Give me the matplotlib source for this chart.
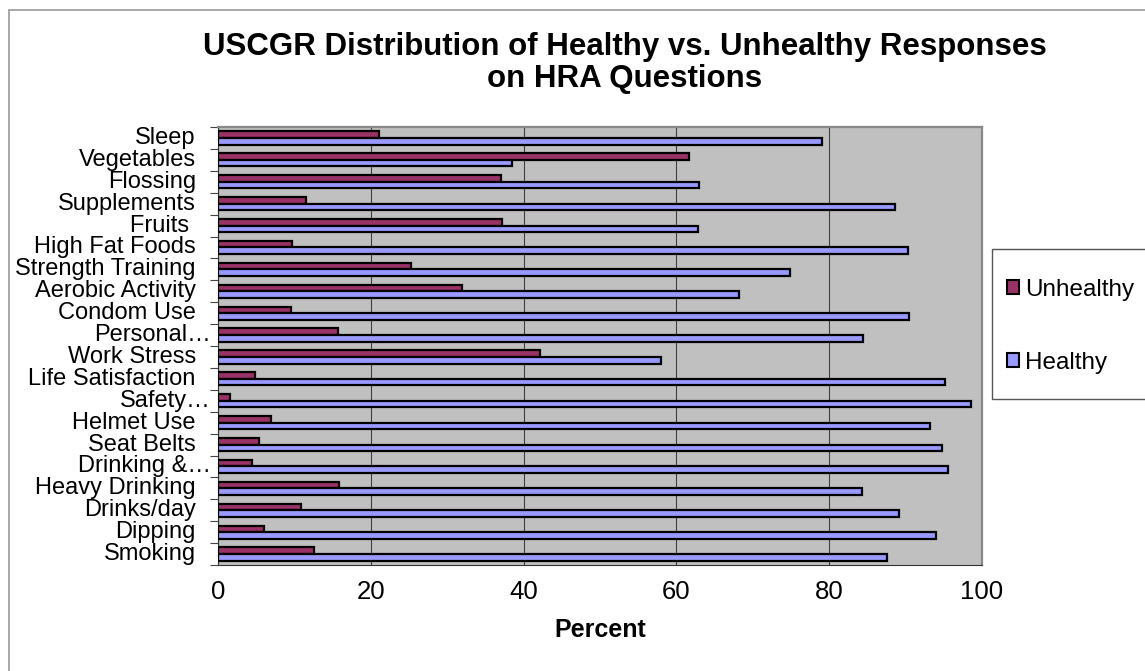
import matplotlib
matplotlib.use("Agg")
import matplotlib.pyplot as plt
import matplotlib.transforms as mtransforms
import numpy as np
from matplotlib.patches import Rectangle

plt.rcParams['font.family'] = ['Liberation Sans', 'DejaVu Sans']

categories = ["Smoking", "Dipping", "Drinks/day", "Heavy Drinking", "Drinking &\u2026",
              "Seat Belts", "Helmet Use", "Safety\u2026", "Life Satisfaction", "Work Stress",
              "Personal\u2026", "Condom Use", "Aerobic Activity", "Strength Training",
              "High Fat Foods", "Fruits ", "Supplements", "Flossing", "Vegetables", "Sleep"]
unhealthy = [12.6, 6.0, 10.9, 15.8, 4.5, 5.4, 6.9, 1.6, 4.9, 42.1,
             15.7, 9.6, 31.9, 25.2, 9.7, 37.2, 11.5, 37.1, 61.6, 21.1]
healthy = [87.5, 94.0, 89.1, 84.3, 95.6, 94.7, 93.2, 98.5, 95.2, 58.0,
           84.4, 90.5, 68.2, 74.9, 90.3, 62.8, 88.6, 62.9, 38.5, 79.0]
xticks = [0, 20, 40, 60, 80, 100]

W, H = 1145, 671
fig = plt.figure(figsize=(W / 100, H / 100), dpi=100)
fig.patch.set_facecolor("white")
fig.add_artist(Rectangle((9 / W, -0.05), 1.1, 1 - 10 / H + 0.05, transform=fig.transFigure,
                         fill=False, edgecolor="#999999", linewidth=1.2))

ax = fig.add_axes([218 / W, 1 - 565 / H, (982 - 218) / W, (565 - 127) / H])
ax.set_facecolor("#C0C0C0")

y = np.arange(len(categories))
bh = 0.3
ax.barh(y + bh / 2, unhealthy, height=bh, color="#993366", edgecolor="black",
        linewidth=1.6, label="Unhealthy", zorder=3)
ax.barh(y - bh / 2, healthy, height=bh, color="#9999FF", edgecolor="black",
        linewidth=1.6, label="Healthy", zorder=3)

ax.set_xlim(0, 100)
ax.set_ylim(-0.5, len(categories) - 0.5)
ax.set_xticks(xticks)
ax.set_xticklabels([str(v) for v in xticks], fontsize=18.5)
ax.tick_params(axis="x", length=0, pad=11)
ax.xaxis.grid(True, color="#404040", linewidth=0.8, zorder=1)

ax.set_yticks(np.arange(len(categories) + 1) - 0.5)
ax.set_yticklabels([])
ax.set_yticks(y, minor=True)
ax.set_yticklabels(categories, minor=True, fontsize=17)
ax.tick_params(axis="y", which="major", length=6, direction="out", color="#444444")
ax.tick_params(axis="y", which="minor", length=0, pad=16)
shift = mtransforms.ScaledTranslation(15 / 100, 0, fig.dpi_scale_trans)
for lab in ax.get_yticklabels(minor=True):
    lab.set_verticalalignment("center")
    if lab.get_text().endswith("\u2026"):
        lab.set_transform(lab.get_transform() + shift)

for side in ["top", "right"]:
    ax.spines[side].set_color("#888888")
    ax.spines[side].set_linewidth(1.6)
ax.spines["left"].set_color("#333333")
ax.spines["bottom"].set_color("#333333")

ax.set_xlabel("Percent", fontsize=18, fontweight="bold", labelpad=10)

fig.text(625 / W, 1 - 63 / H, "USCGR Distribution of Healthy vs. Unhealthy Responses\non HRA Questions",
         ha="center", va="center", fontsize=22.5, fontweight="bold", linespacing=1.05)

# legend frame (extends past the right edge, as in the reference)
fig.add_artist(Rectangle((992 / W, 1 - 399 / H), 0.2, 150 / H, transform=fig.transFigure,
                         facecolor="white", edgecolor="#555555", linewidth=1.0, zorder=4))
handles, labels = ax.get_legend_handles_labels()
leg = fig.legend(handles, labels, loc="upper left", bbox_to_anchor=(1007 / W, 1 - 279 / H),
                 fontsize=17.5, frameon=False, handlelength=0.5, handleheight=0.5,
                 handletextpad=0.25, labelspacing=2.1, borderpad=0, borderaxespad=0)
leg.set_zorder(5)
for h in leg.legend_handles:
    h.set_linewidth(1.5)

fig.savefig("out.png", dpi=100)
